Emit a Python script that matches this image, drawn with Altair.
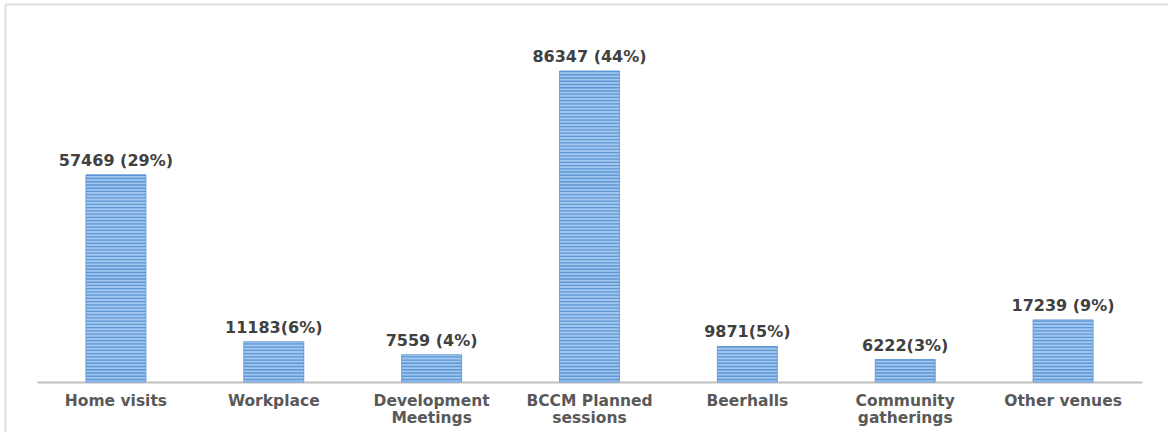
import altair as alt
import pandas as pd

categories = ["Home visits", "Workplace", "Development\nMeetings", "BCCM Planned\nsessions",
              "Beerhalls", "Community\ngatherings", "Other venues"]
values = [57469, 11183, 7559, 86347, 9871, 6222, 17239]
labels = ["57469 (29%)", "11183(6%)", "7559 (4%)", "86347 (44%)", "9871(5%)", "6222(3%)", "17239 (9%)"]

df = pd.DataFrame({"cat": categories, "value": values, "label": labels})

FONT = "DejaVu Sans"
xscale = alt.Scale(domain=categories, range=[37, 1142], paddingInner=0.62, paddingOuter=0.31)
yscale = alt.Scale(domain=[0, 86347], range=[382, 71], nice=False, zero=False)

xaxis = alt.Axis(title=None, orient="bottom", offset=-50, domainColor="#BFBFBF",
                 domainWidth=2, ticks=False, labelAngle=0, labelFont=FONT,
                 labelFontSize=15.5, labelFontWeight="bold", labelColor="#595959",
                 labelPadding=11, labelLineHeight=17, labelBaseline="top",
                 labelExpr="split(datum.label, '\\n')")
xenc = alt.X("cat:N", scale=xscale, sort=categories, axis=xaxis)

base = alt.Chart(df)

bars = base.mark_bar(color="#A3C6EE", stroke="#6FA3DC", strokeWidth=1).encode(
    x=xenc,
    y=alt.Y("value:Q", scale=yscale, axis=None),
    y2=alt.datum(0),
)

stripes = base.transform_calculate(
    s="sequence(700, datum.value, 900)"
).transform_flatten(["s"]).mark_tick(color="#5591D2", thickness=1.3, size=60, opacity=0.9).encode(
    x=xenc,
    y=alt.Y("s:Q", scale=yscale, axis=None),
)

text = base.mark_text(font=FONT, fontSize=16, fontWeight="bold", color="#404040",
                      baseline="alphabetic", dy=-9).encode(
    x=xenc,
    y=alt.Y("value:Q", scale=yscale, axis=None),
    text="label:N",
)

border_data = alt.Data(values=[{"k": 1}])
left_border = alt.Chart(border_data).mark_rule(color="#E0E0E0", strokeWidth=2).encode(
    x=alt.value(5.5), y=alt.value(4), y2=alt.value(432))
top_border = alt.Chart(border_data).mark_rule(color="#E0E0E0", strokeWidth=2).encode(
    x=alt.value(5), x2=alt.value(1168), y=alt.value(4.5))

chart = alt.layer(bars, stripes, text, left_border, top_border).properties(
    width=1168, height=432,
    autosize=alt.AutoSizeParams(type="none"),
    padding=0,
    background="white",
).configure_view(stroke=None)

chart.save("out.html", embed_options={"renderer": "svg", "actions": False})
